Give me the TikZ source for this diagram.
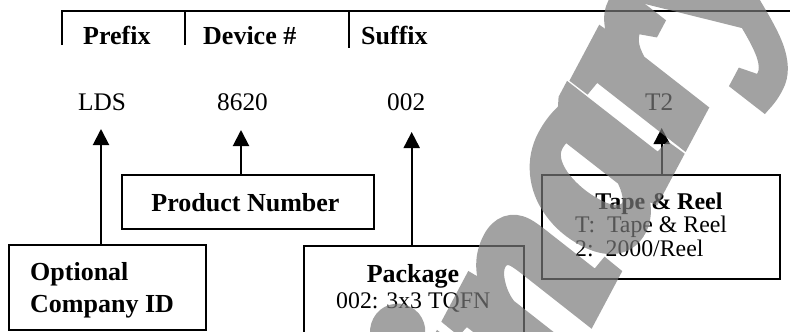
\documentclass[tikz,border=0pt]{standalone}
\usepackage{fontspec}
\setmainfont{Liberation Serif}
\newfontface\wmface[FakeBold=6]{Liberation Serif Bold Italic}
\usetikzlibrary{arrows.meta}
\tikzset{
  txt/.style={inner sep=0pt, anchor=base west},
  hdr/.style={txt, font=\fontsize{26}{30}\selectfont\bfseries},
  val/.style={txt, font=\fontsize{25.3}{30}\selectfont},
  boxtext/.style={txt, font=\fontsize{23.8}{28}\selectfont},
  boxbold/.style={txt, font=\fontsize{26}{30}\selectfont\bfseries},
  frame/.style={draw, line width=2pt, inner sep=0pt},
  arr/.style={line width=2pt, -{Triangle[width=16pt,length=16pt]}},
  rule/.style={line width=1.8pt},
  wmark/.style={inner sep=0pt, anchor=base east, rotate=62, text=black!52,
    font=\fontsize{262}{262}\selectfont\wmface}
}
\begin{document}
\begin{tikzpicture}[x=1pt,y=-1pt]
\path[use as bounding box, clip] (0,0) rectangle (790,332);

% header rule
\coordinate (hl) at (62,11);
\coordinate (hr) at (790,11);
\draw[rule] (62,45) -- (hl) -- (hr);
\draw[rule] (185,11) -- (185,45);
\draw[rule] (349,11) -- (349,48);

\node[hdr] (prefix) at (83,44) {Prefix};
\node[hdr] (device) at (203,44) {Device \#};
\node[hdr] (suffix) at (361,44) {Suffix};

% values
\node[val] (lds) at (78,110) {LDS};
\node[val] (num) at (217,110) {8620};
\node[val] (pkgv) at (387,110) {002};
\node[val] (trv) at (645,110) {T2};

% boxes
\node[frame, minimum width=196.7pt, minimum height=85pt] (optbox) at (107.7,287.5) {};
\node[frame, minimum width=252.3pt, minimum height=54.3pt] (prodbox) at (247.8,202.2) {};
\node[frame, minimum width=219.7pt, minimum height=110pt] (pkgbox) at (414.15,300.7) {};
\node[frame, minimum width=238.3pt, minimum height=104.3pt] (tapebox) at (660.85,227.15) {};

% box texts
\node[boxbold] (opt1) at (30,280) {Optional};
\node[boxbold] (opt2) at (30,312.7) {Company ID};
\node[boxbold, anchor=base] (prodt) at (245.5,211.7) {Product Number};
\node[boxbold, anchor=base] (pkgt) at (413,282.5) {Package};
\node[boxtext] (pkgd) at (336,308) {002: 3x3 TQFN};
\node[boxtext, font=\fontsize{24}{28}\selectfont\bfseries, anchor=base] (tapet) at (659,209) {Tape \& Reel};
\node[boxtext] (tape1) at (575,232.7) {T:\ \ Tape \& Reel};
\node[boxtext] (tape2) at (575,256.7) {2:\ \ 2000/Reel};

% arrow tips
\coordinate (tlds) at (101,129);
\coordinate (tnum) at (241,130);
\coordinate (tpkg) at (411.7,132);
\coordinate (ttr) at (661.7,128);

\draw[arr] (optbox.north -| tlds) -- (tlds);
\draw[arr] (prodbox.north -| tnum) -- (tnum);
\draw[arr] (pkgbox.north -| tpkg) -- (tpkg);
\draw[arr] (tapebox.north -| ttr) -- (ttr);

% watermark
\begin{scope}[transparency group, opacity=0.7]
\node[wmark] (wm) at (783,-48) {Preliminary};
\end{scope}
\end{tikzpicture}
\end{document}
